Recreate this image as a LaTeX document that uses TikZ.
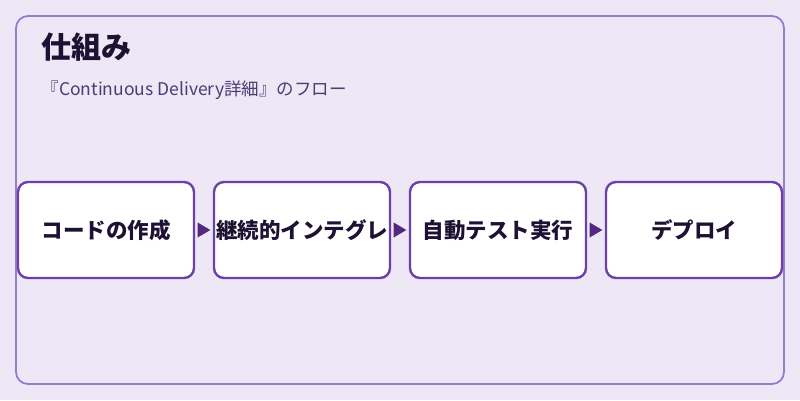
\documentclass[tikz,border=0pt]{standalone}
\usepackage{fontspec}
\setmainfont{Noto Sans CJK JP}
\usepackage{xcolor}
\usepackage{tikz}
\usetikzlibrary{positioning}
\definecolor{lavbg}{RGB}{237, 231, 246}
\definecolor{panelline}{RGB}{153, 122, 204}
\definecolor{stepline}{RGB}{108, 64, 164}
\definecolor{arrowfill}{RGB}{82, 40, 128}
\definecolor{inktext}{RGB}{30, 18, 52}
\definecolor{subtext}{RGB}{76, 60, 116}

\begin{document}
\begin{tikzpicture}[x=1pt, y=-1pt,
    stepbox/.style={draw=stepline, line width=2.4pt, fill=white, rounded corners=10pt,
        minimum width=176pt, minimum height=96pt, inner sep=0pt,
        font=\fontsize{21.5}{26}\selectfont\bfseries, text=inktext},
    flowarrow/.style={fill=arrowfill}]
    % Background
    \useasboundingbox (0,0) rectangle (800,400);
    \fill[lavbg] (0,0) rectangle (800,400);

    % The Panel
    \draw[panelline, line width=1.8pt, rounded corners=12pt] (16,16) rectangle (784,384);
    \node[anchor=west, text=inktext, font=\fontsize{30}{34}\selectfont\bfseries] (title) at (38,47) {仕組み};
    \node[anchor=west, text=subtext, font=\fontsize{17.5}{21}\selectfont] (subtitle) at (38,90) {『Continuous Delivery詳細』のフロー};

    % The Steps
    \node[stepbox] (code) at (106,230) {コードの作成};
    \node[stepbox, right=17.6pt of code] (ci) {継続的インテグレ};
    \node[stepbox, right=17.6pt of ci] (test) {自動テスト実行};
    \node[stepbox, right=17.6pt of test] (deploy) {デプロイ};

    % Connectors (triangle heads between the steps)
    \foreach \a/\b in {code/ci, ci/test, test/deploy} {
        \fill[flowarrow] ([xshift=2.5pt, yshift=7.5pt]\a.east) -- ([xshift=-2.5pt]\b.west)
            -- ([xshift=2.5pt, yshift=-7.5pt]\a.east) -- cycle;
    }
\end{tikzpicture}
\end{document}
